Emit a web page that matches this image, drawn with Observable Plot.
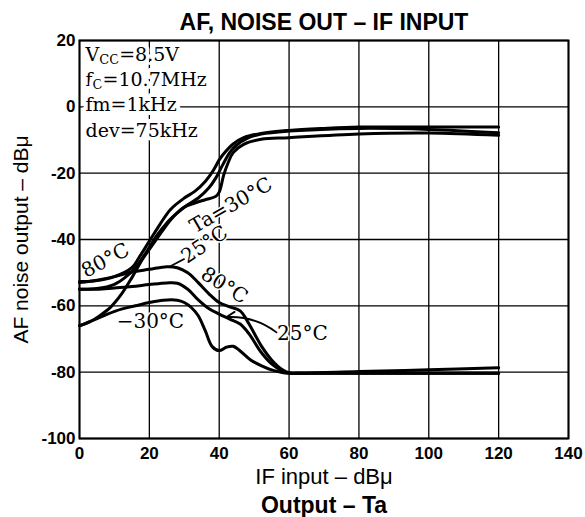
<!DOCTYPE html>
<html><head><meta charset="utf-8">
<script src="https://cdn.jsdelivr.net/npm/d3@7"></script>
<script src="https://cdn.jsdelivr.net/npm/@observablehq/plot@0.6"></script>
<style>html,body{margin:0;padding:0;background:#fff;} svg{display:block}</style>
</head><body><div id="chart"></div>
<script>
// ---- tick labels ----
const xTicks = [0, 20, 40, 60, 80, 100, 120, 140];
const yTicks = [-100, -80, -60, -40, -20, 0, 20];

// ---- rising (AF output) curves ----
const rise80X = [0, 5, 10, 15, 17, 20, 23, 26, 30, 33, 36, 38, 40, 41, 44, 47, 52, 60, 70, 80, 100, 120];
const rise80Y = [-52.7, -52.4, -51.2, -48.5, -45.5, -40.5, -35.5, -31, -27.5, -25.5, -22.5, -19.7, -16, -14.5, -11.2, -9.3, -8, -7.1, -6.5, -6.1, -6.1, -6.1];
const rise25X = [0, 5, 10, 13, 16, 19, 22, 25, 28, 31, 34, 37, 39, 41, 43, 45, 48, 52, 60, 80, 100, 120];
const rise25Y = [-55, -54.8, -53.5, -51.5, -48.5, -44, -39, -35, -32, -29.5, -27.5, -24.5, -21.5, -17.5, -13.8, -11.5, -9.5, -8.2, -7.3, -6.5, -6.8, -7.8];
const rise30X = [0, 3, 6, 9, 12, 15, 18, 21, 24, 27, 30, 33, 36, 39, 40, 41.3, 42.5, 44, 47, 52, 60, 80, 100, 120];
const rise30Y = [-66, -64.8, -62.8, -60.3, -56.5, -51.5, -46, -41.5, -37, -33, -30.2, -29, -28, -27, -25.7, -20.5, -17, -13.8, -11.3, -9.8, -9.3, -8.2, -7.9, -8.6];

// ---- falling (noise output) curves ----
const noise80X = [0, 5, 10, 15, 20, 25, 28, 31, 34, 37, 40, 43, 46, 48.5, 52, 55, 58, 60, 65, 80, 100, 120];
const noise80Y = [-53, -52.3, -51.2, -49.8, -49, -48.2, -48.5, -50, -53, -56.3, -59, -60.3, -61.5, -65.4, -72, -76.3, -79.2, -80.2, -80.3, -79.8, -79.3, -78.7];
const noise25X = [0, 5, 10, 15, 20, 25, 28, 31, 34, 37, 40, 43, 46, 48.5, 52, 55, 58, 60, 65, 120];
const noise25Y = [-55, -55, -54.6, -54.2, -53.6, -53.1, -53.2, -55, -58.2, -60.8, -62.5, -64, -65.5, -68.4, -74, -77.5, -79.6, -80.3, -80.3, -80.3];
const noise30X = [0, 4, 8, 12, 16, 20, 24, 28, 30, 32, 34, 36, 38, 40, 42, 44, 46, 49, 52, 55, 58, 60, 65, 120];
const noise30Y = [-66, -64.3, -62.5, -61, -60, -59, -58.3, -58.3, -59, -60.5, -63, -67.5, -72.3, -73.5, -72.5, -72.2, -73.6, -76.3, -78, -79.3, -80.1, -80.3, -80.3, -80.3];

// ---- texts ----
const titleText = "AF, NOISE OUT – IF INPUT";
const xLabel = "IF input – dBμ";
const yLabel = "AF noise output – dBμ";
const captionText = "Output – Ta";
const conditionLines = ["V{CC}=8.5V", "f{C}=10.7MHz", "fm=1kHz", "dev=75kHz"];

// curve labels (annotation positions in data units)
const curveLabels = [
  {text: "80°C", x: 7.4, y: -46.3, rotate: -28},
  {text: "Ta=30°C", x: 43.4, y: -29.7, rotate: -30},
  {text: "25°C", x: 35.8, y: -41.5, rotate: -34},
  {text: "80°C", x: 41.5, y: -53.9, rotate: 32},
  {text: "−30°C", x: 20.3, y: -64.7, rotate: 0},
  {text: "25°C", x: 63.8, y: -68.3, rotate: 0}
];
const leaders = [{x1: 25.6, y1: -48.3, x2: 30.1, y2: -45.8}];
const pointers = [{x1: 56.4, y1: -68.0, x2: 42.1, y2: -63.4}];

const series = [
  ["rise80", rise80X, rise80Y], ["rise25", rise25X, rise25Y], ["rise-30", rise30X, rise30Y],
  ["noise80", noise80X, noise80Y], ["noise25", noise25X, noise25Y], ["noise-30", noise30X, noise30Y]
];
const rows = series.flatMap(([name, xs, ys]) => xs.map((x, i) => ({series: name, x, y: ys[i]})));

const serif = "DejaVu Serif, serif";
const condDy = [14, 39.5, 64.5, 90];

const plot = Plot.plot({
  width: 585, height: 517,
  marginLeft: 79, marginRight: 17, marginTop: 40, marginBottom: 79,
  style: {fontFamily: "Liberation Sans, Arial, sans-serif", background: "#fff", color: "#000"},
  x: {domain: [0, 140]},
  y: {domain: [-100, 20]},
  marks: [
    Plot.gridX({ticks: xTicks, stroke: "#000", strokeOpacity: 1, strokeWidth: 1.3}),
    Plot.gridY({ticks: yTicks, stroke: "#000", strokeOpacity: 1, strokeWidth: 1.3}),
    ...conditionLines.map((s, i) => Plot.text([s], {
      text: d => d, frameAnchor: "top-left", textAnchor: "start", lineAnchor: "middle",
      dx: 6, dy: condDy[i], fontFamily: serif, fontSize: 19, fill: "#000",
      stroke: "#fff", strokeWidth: 8
    })),
    Plot.line(rows, {x: "x", y: "y", z: "series", stroke: "#000", strokeWidth: 3, curve: "catmull-rom"}),
    Plot.link(leaders, {x1: "x1", y1: "y1", x2: "x2", y2: "y2", stroke: "#000", strokeWidth: 1.8}),
    Plot.arrow(pointers, {x1: "x1", y1: "y1", x2: "x2", y2: "y2", stroke: "#000", strokeWidth: 1.8, headLength: 8, bend: -20}),
    Plot.text(curveLabels, {x: "x", y: "y", text: "text", rotate: "rotate", fontFamily: serif, fontSize: 20, fill: "#000", stroke: "#fff", strokeWidth: 3}),
    Plot.frame({stroke: "#000", strokeWidth: 2}),
    Plot.axisX({ticks: xTicks, tickSize: 0, tickPadding: 8, fontSize: 17, fontWeight: "bold", label: null, tickFormat: d => String(d)}),
    Plot.axisY({ticks: yTicks, tickSize: 0, tickPadding: 4, fontSize: 17, fontWeight: "bold", label: null, tickFormat: d => String(d)}),
    Plot.text([titleText], {text: d => d, frameAnchor: "top", lineAnchor: "middle", textAnchor: "middle", dy: -18, fontSize: 23, fontWeight: "bold"}),
    Plot.text([xLabel], {text: d => d, frameAnchor: "bottom", lineAnchor: "middle", textAnchor: "middle", dy: 38, fontSize: 22}),
    Plot.text([captionText], {text: d => d, frameAnchor: "bottom", lineAnchor: "middle", textAnchor: "middle", dy: 67, fontSize: 23, fontWeight: "bold"}),
    Plot.text([yLabel], {text: d => d, frameAnchor: "left", lineAnchor: "middle", textAnchor: "middle", rotate: -90, dx: -58, fontSize: 21})
  ]
});

// subscripts: "V{CC}" -> V with subscript CC
d3.select(plot).selectAll("text").each(function () {
  const t = this.textContent;
  if (!/\{.+\}/.test(t) || this.querySelector("tspan")) return;
  const parts = t.split(/(\{[^}]+\})/).filter(p => p.length);
  this.textContent = "";
  let shifted = false;
  for (const p of parts) {
    const ts = document.createElementNS("http://www.w3.org/2000/svg", "tspan");
    if (p.startsWith("{")) {
      ts.textContent = p.slice(1, -1);
      ts.setAttribute("font-size", "13");
      ts.setAttribute("dy", "3");
      shifted = true;
    } else {
      ts.textContent = p;
      if (shifted) { ts.setAttribute("dy", "-3"); shifted = false; }
    }
    this.appendChild(ts);
  }
});

document.getElementById("chart").appendChild(plot);
</script>
</body></html>
